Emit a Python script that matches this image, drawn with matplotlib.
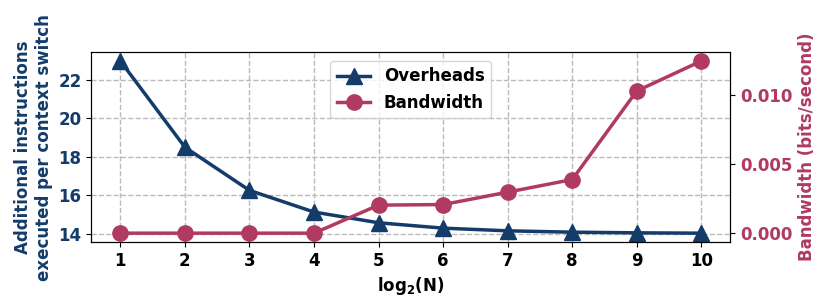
import matplotlib
matplotlib.use("Agg")
import matplotlib.pyplot as plt

log2n = [1, 2, 3, 4, 5, 6, 7, 8, 9, 10]
overheads = [23.0, 18.5, 16.25, 15.12, 14.56, 14.28, 14.14, 14.07, 14.035, 14.018]
bandwidth = [0.0, 0.0, 0.0, 0.0, 0.00203, 0.00207, 0.00297, 0.00388, 0.01029, 0.01246]

navy = "#143c6b"
pink = "#b03a60"

plt.rcParams['font.family'] = ['DejaVu Sans']
plt.rcParams['font.weight'] = 'bold'

fig, ax = plt.subplots(figsize=(8.3, 3.08), dpi=100)
fig.subplots_adjust(left=0.11, right=0.88, top=0.83, bottom=0.215)

l1, = ax.plot(log2n, overheads, color=navy, marker='^', markersize=11, linewidth=2.5, label='Overheads')
ax2 = ax.twinx()
l2, = ax2.plot(log2n, bandwidth, color=pink, marker='o', markersize=11, linewidth=2.5, label='Bandwidth')

ax.set_xticks(log2n)
ax.set_yticks([14, 16, 18, 20, 22])
ax2.set_yticks([0.0, 0.005, 0.010])
ax2.set_yticklabels(['0.000', '0.005', '0.010'])

ax.grid(True, linestyle='--', color='#bbbbbb', linewidth=1)
ax.set_xlabel(r'$\mathbf{log_2(N)}$', fontsize=12, fontweight='bold')
ax.set_ylabel('Additional instructions\nexecuted per context switch', fontsize=12, fontweight='bold', color=navy)
ax2.set_ylabel('Bandwidth (bits/second)', fontsize=12, fontweight='bold', color=pink)

for lab in ax.get_xticklabels():
    lab.set_fontsize(12); lab.set_fontweight('bold')
for lab in ax.get_yticklabels():
    lab.set_fontsize(12); lab.set_fontweight('bold'); lab.set_color(navy)
for lab in ax2.get_yticklabels():
    lab.set_fontsize(12); lab.set_fontweight('bold'); lab.set_color(pink)

leg = ax.legend(handles=[l1, l2], loc='upper center', bbox_to_anchor=(0.5, 1.0),
                prop={'weight': 'bold', 'size': 12})

fig.savefig('out.png', dpi=100)
